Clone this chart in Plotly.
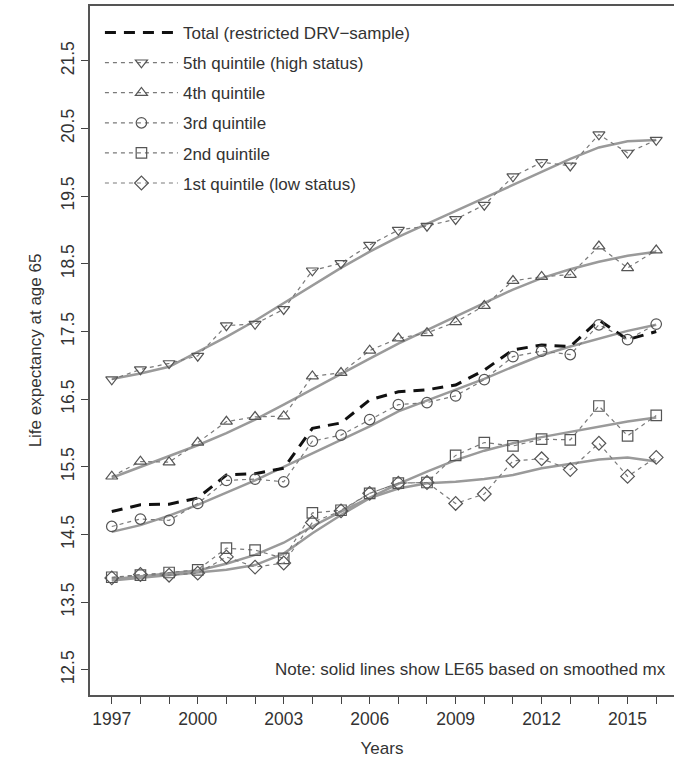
import plotly.graph_objects as go

years = list(range(1997, 2017))

total_obs = [14.84, 14.94, 14.95, 15.04, 15.38, 15.40, 15.48, 16.07, 16.15, 16.49,
             16.61, 16.64, 16.71, 16.93, 17.23, 17.30, 17.28, 17.67, 17.38, 17.50]

q5_obs = [16.79, 16.94, 17.03, 17.14, 17.59, 17.61, 17.83, 18.40, 18.51, 18.78,
          19.00, 19.06, 19.16, 19.37, 19.79, 20.00, 19.95, 20.41, 20.14, 20.33]
q4_obs = [15.36, 15.58, 15.57, 15.86, 16.17, 16.24, 16.25, 16.84, 16.89, 17.22,
          17.40, 17.48, 17.64, 17.88, 18.25, 18.31, 18.34, 18.76, 18.44, 18.70]
q3_obs = [14.62, 14.73, 14.71, 14.96, 15.30, 15.32, 15.28, 15.88, 15.97, 16.20,
          16.42, 16.45, 16.55, 16.79, 17.13, 17.21, 17.16, 17.60, 17.38, 17.61]
q2_obs = [13.87, 13.90, 13.94, 13.98, 14.30, 14.27, 14.15, 14.82, 14.86, 15.11,
          15.26, 15.27, 15.67, 15.86, 15.81, 15.91, 15.90, 16.40, 15.96, 16.26]
q1_obs = [13.86, 13.91, 13.90, 13.93, 14.17, 14.02, 14.08, 14.68, 14.85, 15.11,
          15.26, 15.27, 14.96, 15.10, 15.59, 15.62, 15.46, 15.85, 15.36, 15.64]

q5_smooth = [16.80, 16.88, 16.98, 17.20, 17.42, 17.66, 17.92, 18.18, 18.44, 18.68,
             18.90, 19.09, 19.28, 19.47, 19.66, 19.86, 20.05, 20.22, 20.31, 20.33]
q4_smooth = [15.34, 15.50, 15.66, 15.82, 16.00, 16.20, 16.42, 16.65, 16.88, 17.10,
             17.32, 17.52, 17.72, 17.92, 18.12, 18.29, 18.42, 18.53, 18.62, 18.68]
q3_smooth = [14.54, 14.64, 14.78, 14.94, 15.12, 15.30, 15.50, 15.70, 15.90, 16.10,
             16.32, 16.48, 16.64, 16.80, 16.98, 17.15, 17.28, 17.40, 17.51, 17.60]
q2_smooth = [13.84, 13.88, 13.92, 13.97, 14.07, 14.20, 14.38, 14.62, 14.84, 15.05,
             15.25, 15.43, 15.60, 15.74, 15.85, 15.94, 16.02, 16.10, 16.17, 16.23]
q1_smooth = [13.82, 13.86, 13.89, 13.93, 13.98, 14.05, 14.22, 14.52, 14.79, 15.04,
             15.18, 15.26, 15.28, 15.32, 15.38, 15.48, 15.55, 15.61, 15.64, 15.58]

labels = ["Total (restricted DRV\u2212sample)", "5th quintile (high status)", "4th quintile",
          "3rd quintile", "2nd quintile", "1st quintile (low status)"]
symbols = ["triangle-down-open", "triangle-up-open", "circle-open", "square-open", "diamond-open"]
x_tick_labels = ["1997", "2000", "2003", "2006", "2009", "2012", "2015"]
y_ticks = [12.5, 13.5, 14.5, 15.5, 16.5, 17.5, 18.5, 19.5, 20.5, 21.5]

FONT = "Liberation Sans, Arial, sans-serif"
fig = go.Figure()

obs = [q5_obs, q4_obs, q3_obs, q2_obs, q1_obs]
smooth = [q5_smooth, q4_smooth, q3_smooth, q2_smooth, q1_smooth]

for s in smooth:
    fig.add_trace(go.Scatter(x=years, y=s, mode="lines", showlegend=False,
                             line=dict(color="#9a9a9a", width=2.5), hoverinfo="skip"))

fig.add_trace(go.Scatter(x=years, y=total_obs, mode="lines", name=labels[0],
                         legendgroup="g0", legendrank=1,
                         line=dict(color="#111111", width=3, dash="11px,8px")))

for i, (o, sym) in enumerate(zip(obs, symbols)):
    fig.add_trace(go.Scatter(x=years, y=o, mode="lines+markers", name=labels[i + 1],
                             legendgroup=f"g{i+1}", legendrank=i + 2,
                             line=dict(color="#7a7a7a", width=1.2, dash="4px,4px"),
                             marker=dict(symbol=sym, size=10.5, color="#555555",
                                         line=dict(color="#555555", width=1.2))))

ticktext = [str(y) if str(y) in x_tick_labels else "" for y in years]

fig.update_layout(
    width=674, height=765,
    margin=dict(l=90, r=0, t=6, b=70, autoexpand=False),
    plot_bgcolor="white", paper_bgcolor="white",
    font=dict(family=FONT, size=17, color="#333333"),
    showlegend=True,
    legend=dict(x=0.017, y=0.987, xanchor="left", yanchor="top",
                bgcolor="rgba(0,0,0,0)", borderwidth=0,
                font=dict(size=17, color="#333333"),
                tracegroupgap=5, itemwidth=73, traceorder="grouped"),
    xaxis=dict(range=[1996.24, 2016.62], tickmode="array", tickvals=years, ticktext=ticktext,
               automargin=False,
               ticks="outside", ticklen=7, tickwidth=1.2, tickcolor="#444444",
               showline=True, linecolor="#555555", linewidth=1.5, mirror=True,
               showgrid=False, zeroline=False,
               tickfont=dict(size=17.5, color="#333333"),
               title=dict(text="Years", font=dict(size=17, color="#333333"), standoff=14)),
    yaxis=dict(range=[12.13, 22.31], tickmode="array", tickvals=y_ticks,
               ticktext=[f"{v:.1f}" for v in y_ticks],
               automargin=False,
               ticks="outside", ticklen=7, tickwidth=1.2, tickcolor="#444444",
               tickangle=-90,
               showline=True, linecolor="#555555", linewidth=1.5,
               showgrid=False, zeroline=False,
               tickfont=dict(size=17.5, color="#333333"),
               title=dict(text="Life expectancy at age 65", font=dict(size=17, color="#333333"),
                          standoff=12)),
)

fig.add_annotation(x=2016.41, y=12.5, xref="x", yref="y", xanchor="right", yanchor="middle",
                   text="Note: solid lines show LE65 based on smoothed mx", showarrow=False,
                   font=dict(size=17, color="#333333"))

fig.write_html("out.html", config={"displayModeBar": False},
               post_script="document.body.style.margin='0';")
